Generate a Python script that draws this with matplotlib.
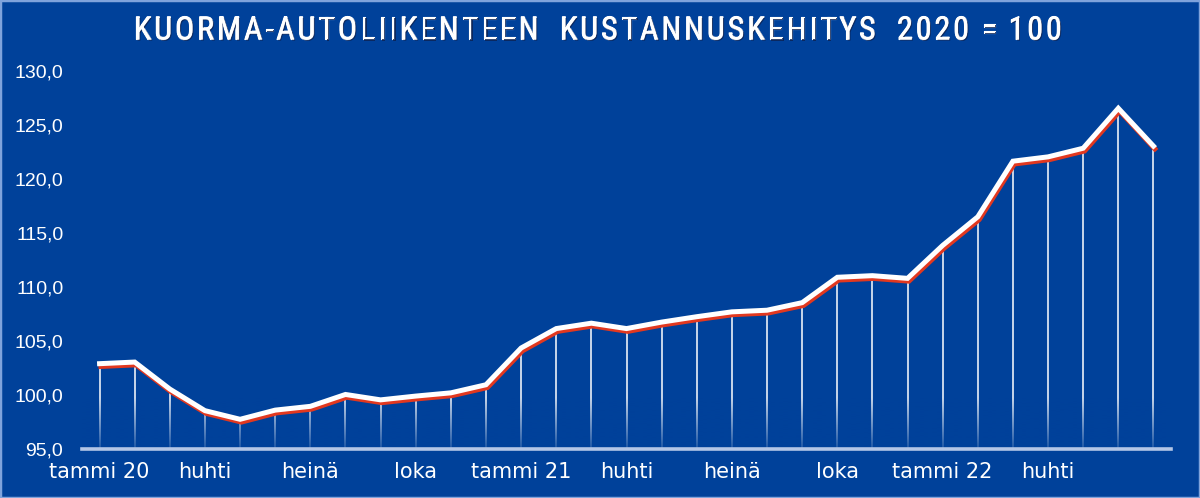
"""Kuorma-autoliikenteen kustannuskehitys 2020 = 100 (indeksi, kuukausittain)."""

import matplotlib
matplotlib.use("Agg")

import matplotlib.pyplot as plt  # noqa: E402
import matplotlib.patheffects as pe  # noqa: E402
import numpy as np  # noqa: E402
import pandas as pd  # noqa: E402
from matplotlib import font_manager  # noqa: E402
from matplotlib.patches import Rectangle  # noqa: E402

# ---------------------------------------------------------------------------
# Data
# ---------------------------------------------------------------------------
months = pd.period_range("2020-01", "2022-07", freq="M").strftime("%Y-%m").tolist()

cost_index = [
    102.9, 103.05, 100.55, 98.55, 97.75, 98.6, 98.95, 100.05, 99.55, 99.9,
    100.2, 100.95, 104.35, 106.15, 106.65, 106.15, 106.75, 107.25, 107.7, 107.85,
    108.55, 110.9, 111.05, 110.8, 113.85, 116.5, 121.65, 122.05, 122.85, 126.55,
    123.05,
]

tick_months = ["2020-01", "2020-04", "2020-07", "2020-10", "2021-01", "2021-04",
               "2021-07", "2021-10", "2022-01", "2022-04"]
tick_labels = ["tammi 20", "huhti", "heinä", "loka", "tammi 21", "huhti",
               "heinä", "loka", "tammi 22", "huhti"]

y_ticks = [95, 100, 105, 110, 115, 120, 125, 130]

title = "KUORMA-AUTOLIIKENTEEN  KUSTANNUSKEHITYS  2020 = 100"

# ---------------------------------------------------------------------------
# Styles
# ---------------------------------------------------------------------------
BG = "#00419a"
BORDER = "#7fa3dc"
BASELINE = "#b4c6e6"
SHADOW_RED = "#e2381f"

_installed = {f.name for f in font_manager.fontManager.ttflist}
TITLE_FONT = next(
    (n for n in ("Liberation Sans Narrow", "DejaVu Sans Condensed", "Roboto Condensed",
                 "Open Sans Condensed", "Liberation Sans") if n in _installed),
    "DejaVu Sans",
)


def tracked_title(fig, text, x_left, x_right, y_center, **kw):
    """Draw text with letter spacing so it spans x_left..x_right (pixels)."""
    renderer = fig.canvas.get_renderer()
    size_px = kw.get("fontsize", 20) * fig.dpi / 72.0
    widths = []
    for ch in text:
        if ch == " ":
            widths.append(size_px * 0.2)
            continue
        t = fig.text(0, 0, ch, **kw)
        widths.append(t.get_window_extent(renderer).width)
        t.remove()
    tracking = (x_right - x_left - sum(widths)) / (len(text) - 1)
    W, H = fig.bbox.width, fig.bbox.height
    x = x_left
    for ch, w in zip(text, widths):
        if ch != " ":
            fig.text(x / W, 1 - y_center / H, ch, ha="left", va="center",
                     path_effects=[pe.withStroke(linewidth=0.8, foreground="white"),
                                   pe.withSimplePatchShadow(offset=(0.8, -0.8),
                                                            shadow_rgbFace="#0b2050", alpha=0.8),
                                   pe.Normal()],
                     **kw)
        x += w + tracking


fig = plt.figure(figsize=(12.0, 4.98), dpi=100, facecolor=BG)
ax = fig.add_axes([82 / 1200, 1 - 449 / 498, (1171 - 82) / 1200, (449 - 71) / 498])
ax.set_facecolor(BG)

x = np.arange(len(months))

# Drop lines from every point to the baseline
ax.vlines(x, 95, cost_index, colors="white", linewidth=1.1, zorder=2)

# Fade the drop lines just above the baseline
fade = np.zeros((256, 1, 4))
fade[..., :3] = matplotlib.colors.to_rgb(BG)
fade[:, 0, 3] = np.clip(np.linspace(0.85, -5.5, 256), 0, 1)  # row 0 = bottom
ax.imshow(fade, extent=[0, 1, 0, 1], transform=ax.transAxes,
          aspect="auto", origin="lower", zorder=2.5, interpolation="bilinear")

# Main line: white with a red drop shadow
ax.plot(x, cost_index, color="white", linewidth=3.6, solid_joinstyle="miter",
        zorder=4,
        path_effects=[pe.SimpleLineShadow(offset=(1.0, -2.0), shadow_color=SHADOW_RED, alpha=1.0),
                      pe.Normal()])

# Baseline at 95
ax.axhline(95, color=BASELINE, linewidth=2.6, zorder=5, clip_on=False)

ax.set_xlim(-0.5, len(months) - 0.5)
ax.set_ylim(95, 130)

ax.set_yticks(y_ticks)
ax.set_yticklabels([f"{v:.1f}".replace(".", ",") for v in y_ticks],
                   fontsize=14, color="white", family=["Liberation Sans", "DejaVu Sans"])
ax.set_xticks([months.index(m) for m in tick_months])
ax.set_xticklabels(tick_labels, fontsize=15, color="white", family="DejaVu Sans")
ax.tick_params(axis="y", length=0, pad=13.5)
ax.tick_params(axis="x", length=0, pad=9)
for spine in ax.spines.values():
    spine.set_visible(False)

tracked_title(fig, title, 134, 1062, 31, fontsize=23 if TITLE_FONT != "Liberation Sans" else 19,
              color="white", fontweight="normal", family=TITLE_FONT)

# Thin light frame round the picture
fig.patches.append(Rectangle((0, 0), 1, 1, transform=fig.transFigure, fill=False,
                             edgecolor=BORDER, linewidth=2.5, zorder=10))

fig.savefig("out.png", dpi=100, facecolor=BG)
plt.close(fig)
